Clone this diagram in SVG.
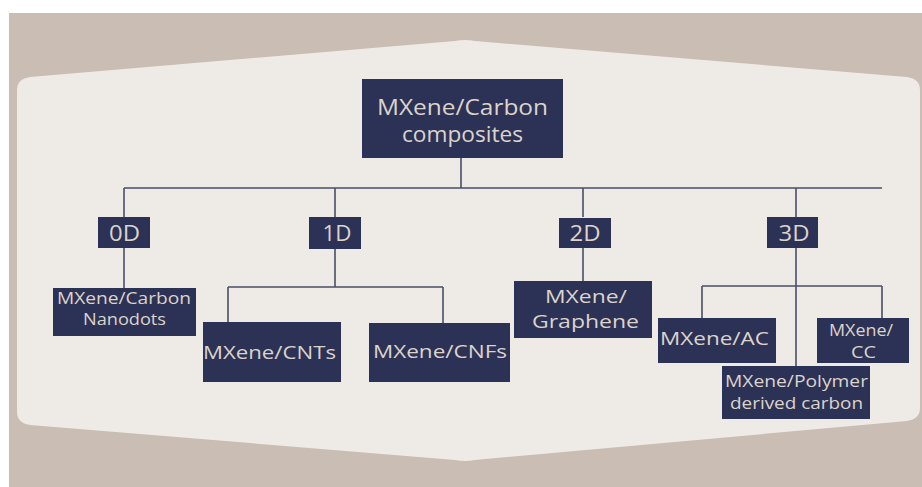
<svg xmlns="http://www.w3.org/2000/svg" width="922" height="487" viewBox="0 0 922 487">
<style>
.box{fill:#2c3256;}
.ln{stroke:#4a4f66;stroke-width:1.6;fill:none;}
text{font-family:"Open Sans","Lato","Liberation Sans",sans-serif;fill:#dcd4ca;text-anchor:middle;}
.big{font-size:22px;}
.d{font-size:21px;}
.mid{font-size:19px;}
.sm{font-size:16px;}
</style>
<rect x="0" y="0" width="922" height="487" fill="#ffffff"/>
<rect x="9" y="13" width="913" height="474" fill="#c9bdb4"/>
<path d="M17,90 Q17,79 30,77 L455,41 Q465,39 475,41 L907,77 Q920,79 920,90 L920,408 Q920,419 907,421 L475,460 Q465,462 455,460 L30,425 Q17,423 17,412 Z" fill="#eeeae6"/>
<g id="connectors">
<path class="ln" d="M461,158 V188 M124,188 H882 M124,188 V217 M335,188 V217 M583,188 V217 M796,188 V217"/>
<path class="ln" d="M124,248 V289"/>
<path class="ln" d="M335,249 V287 M228,287 H443 M228,287 V322 M443,287 V323"/>
<path class="ln" d="M583,248 V281"/>
<path class="ln" d="M796,248 V366 M702,286 H882 M702,286 V318 M882,286 V318"/>
</g>
<g id="n-root"><rect class="box" x="362" y="79" width="201" height="79"/><text class="big" x="462.5" y="115" textLength="171" lengthAdjust="spacingAndGlyphs">MXene/Carbon</text><text class="big" x="462.5" y="142" textLength="121" lengthAdjust="spacingAndGlyphs">composites</text></g>
<g id="n-0d"><rect class="box" x="98" y="217" width="52" height="31"/><text class="d" x="124.5" y="241" textLength="31" lengthAdjust="spacingAndGlyphs">0D</text></g>
<g id="n-1d"><rect class="box" x="309" y="217" width="52" height="32"/><text class="d" x="337" y="241" textLength="29" lengthAdjust="spacingAndGlyphs">1D</text></g>
<g id="n-2d"><rect class="box" x="559" y="218" width="52" height="30"/><text class="d" x="585" y="241" textLength="31" lengthAdjust="spacingAndGlyphs">2D</text></g>
<g id="n-3d"><rect class="box" x="767" y="217" width="51" height="31"/><text class="d" x="794" y="241" textLength="31" lengthAdjust="spacingAndGlyphs">3D</text></g>
<g id="n-nanodots"><rect class="box" x="53" y="288" width="143" height="48"/><text class="sm" x="124" y="304" textLength="134" lengthAdjust="spacingAndGlyphs">MXene/Carbon</text><text class="sm" x="124.5" y="325" textLength="83" lengthAdjust="spacingAndGlyphs">Nanodots</text></g>
<g id="n-cnts"><rect class="box" x="203" y="322" width="138" height="60"/><text class="mid" x="269.5" y="359" textLength="133" lengthAdjust="spacingAndGlyphs">MXene/CNTs</text></g>
<g id="n-cnfs"><rect class="box" x="369" y="323" width="141" height="59"/><text class="mid" x="440" y="358" textLength="134" lengthAdjust="spacingAndGlyphs">MXene/CNFs</text></g>
<g id="n-graphene"><rect class="box" x="514" y="281" width="138" height="57"/><text class="mid" x="586" y="303" textLength="82" lengthAdjust="spacingAndGlyphs">MXene/</text><text class="mid" x="585.5" y="328" textLength="107" lengthAdjust="spacingAndGlyphs">Graphene</text></g>
<g id="n-ac"><rect class="box" x="658" y="318" width="118" height="45"/><text class="mid" x="714.5" y="345" textLength="109" lengthAdjust="spacingAndGlyphs">MXene/AC</text></g>
<g id="n-cc"><rect class="box" x="817" y="318" width="92" height="45"/><text class="sm" x="861" y="336" textLength="64" lengthAdjust="spacingAndGlyphs">MXene/</text><text class="sm" x="863.5" y="358" textLength="25" lengthAdjust="spacingAndGlyphs">CC</text></g>
<g id="n-polymer"><rect class="box" x="722" y="366" width="148" height="53"/><text class="sm" x="796.5" y="387" textLength="143" lengthAdjust="spacingAndGlyphs">MXene/Polymer</text><text class="sm" x="796.5" y="409" textLength="133" lengthAdjust="spacingAndGlyphs">derived carbon</text></g>
</svg>
